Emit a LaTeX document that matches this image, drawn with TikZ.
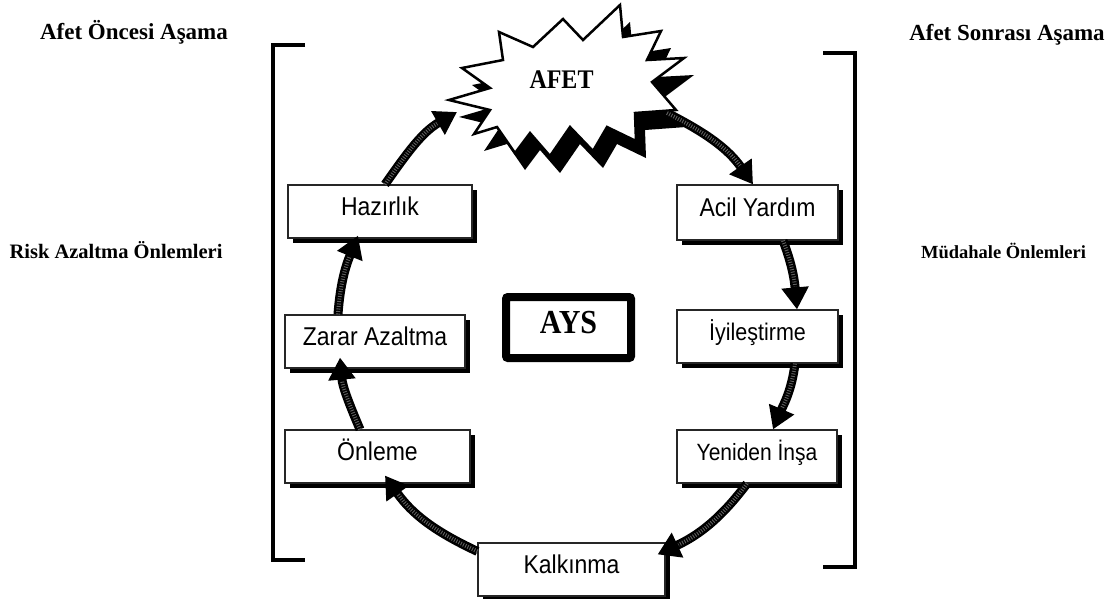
\documentclass[tikz,border=0pt]{standalone}
\usepackage{graphicx}
\usepackage{fontspec}
\setmainfont{Liberation Serif}
\newfontfamily\boxfont{Liberation Sans}
\usetikzlibrary{arrows.meta,shadows}

% slightly taller lettering for the stage boxes
\newcommand\tall[1]{\scalebox{1}[1.12]{#1}}

% outline of the explosion shape around AFET
\def\starpath{(449,-100) -- (490,-88) -- (462,-68) -- (503,-60) -- (499,-32) -- (533,-47)
  -- (563,-19) -- (583,-40) -- (620,-5) -- (623,-37) -- (661,-31) -- (647,-60)
  -- (684,-58) -- (652,-82) -- (676,-110) -- (635,-113) -- (636,-141) -- (607,-127)
  -- (593,-151) -- (570,-127) -- (550,-156) -- (530,-133) -- (515,-153) -- (497,-127)
  -- (474,-134) -- (490,-110) -- cycle}

\begin{document}
\begin{tikzpicture}[x=1pt,y=1pt,
  stage/.style={draw=black!85, line width=1.2pt, fill=white, inner sep=0pt,
    drop shadow={shadow xshift=5pt, shadow yshift=-5pt, fill=black, opacity=1},
    font=\boxfont\fontsize{23}{26}\selectfont, text height=8.5pt, text depth=0pt},
  cyc/.style={line width=9pt, -{Triangle[length=22pt,width=26pt]},
    postaction={draw=black!62, line width=4pt, dash pattern=on 0.9pt off 1.6pt,
      shorten >=23pt, arrows=-}},
  phase/.style={font=\bfseries\fontsize{23}{26}\selectfont, anchor=base},
  bracket/.style={line width=4.5pt, line join=miter}
]
\fill[white] (0,0) rectangle (1113,-598);
\useasboundingbox (0,0) rectangle (1113,-598);

% side labels
\node[phase] (pre)  at (134,-39) {Afet Öncesi Aşama};
\node[phase] (post) at (1007,-40) {Afet Sonrası Aşama};
\node[phase, font=\bfseries\fontsize{20.5}{24}\selectfont] (risk) at (116,-258) {Risk Azaltma Önlemleri};
\node[phase, font=\bfseries\fontsize{18.5}{22}\selectfont] (resp) at (1003.5,-258) {Müdahale Önlemleri};

% brackets
\draw[bracket] (305,-45) -- (273,-45) -- (273,-560) -- (305,-560);
\draw[bracket] (823,-53) -- (855,-53) -- (855,-567) -- (823,-567);

% explosion with shadow
\fill[black, shift={(10,-17)}] \starpath;
\draw[black, fill=white, line width=2.5pt, line join=miter] \starpath;
\node[font=\bfseries\fontsize{24}{28}\selectfont, anchor=base] (afet) at (561.5,-88) {\tall{AFET}};
\coordinate (afetL) at (457,-112);
\coordinate (afetR) at (667,-113);

% centre box
\node[draw=black, line width=8pt, rounded corners=2pt, minimum width=125pt, minimum height=61pt,
  inner sep=0pt, font=\bfseries\fontsize{30}{32}\selectfont, text height=11pt, text depth=0pt]
  (ays) at (568.5,-327.5) {\tall{AYS}};

% stages
\node[stage, minimum width=184pt, minimum height=53pt] (hz) at (380,-211.5) {\tall{Hazırlık}};
\node[stage, minimum width=180pt, minimum height=53pt] (za) at (375,-341.5) {\tall{Zarar Azaltma}};
\node[stage, minimum width=185pt, minimum height=53pt] (on) at (377.5,-456.5) {\tall{Önleme}};
\node[stage, minimum width=187pt, minimum height=53pt] (ka) at (571.5,-569.5) {\tall{Kalkınma}};
\node[stage, minimum width=161pt, minimum height=55pt] (ac) at (757.5,-212.5) {\tall{Acil Yardım}};
\node[stage, minimum width=161pt, minimum height=53pt, font=\boxfont\fontsize{21.5}{24}\selectfont] (iy) at (757.5,-336.5) {\tall{İyileştirme}};
\node[stage, minimum width=160pt, minimum height=53pt, font=\boxfont\fontsize{21}{24}\selectfont] (ye) at (757,-456.5) {\tall{Yeniden İnşa}};

% cycle arrows
\draw[cyc] ([xshift=5pt]hz.north) to[out=55,in=210] (afetL);
\draw[cyc] (afetR) to[out=-27,in=125] ([xshift=-4.5pt]ac.north);
\draw[cyc] ([xshift=25.5pt]ac.south) to[out=-69,in=95] ([xshift=39.5pt]iy.north);
\draw[cyc] ([xshift=37.5pt]iy.south) to[out=-97,in=67] ([xshift=16pt]ye.north);
\draw[cyc] ([xshift=-10pt]ye.south) to[out=-127,in=25] ([xshift=-8pt,yshift=-12pt]ka.north east);
\draw[cyc] ([yshift=-9pt]ka.north west) to[out=155,in=-55] ([xshift=7.5pt,yshift=8pt]on.south);
\draw[cyc] ([xshift=-17.5pt]on.north) to[out=113,in=-85] ([xshift=-35pt,yshift=11pt]za.south);
\draw[cyc] ([xshift=-37pt]za.north) to[out=86,in=-112] ([xshift=-22pt,yshift=3pt]hz.south);
\end{tikzpicture}
\end{document}
